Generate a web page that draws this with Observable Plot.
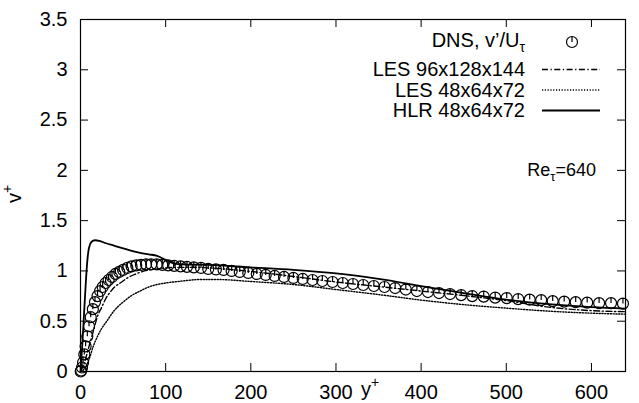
<!DOCTYPE html>
<html><head><meta charset="utf-8">
<script src="https://cdn.jsdelivr.net/npm/d3@7"></script>
<script src="https://cdn.jsdelivr.net/npm/@observablehq/plot@0.6"></script>
<style>body{margin:0;background:#fff;} #chart{width:639px;height:403px;position:relative;}</style>
</head><body><div id="chart"></div>
<script>
// ---- data ----
const xTicks = [0, 100, 200, 300, 400, 500, 600];
const yTicks = [0, 0.5, 1, 1.5, 2, 2.5, 3, 3.5];

const dnsYplus = [0.2, 0.8, 1.8, 3, 4.5, 6, 8, 10, 12, 14.5, 17, 20, 23, 26, 29.5, 33, 37, 41, 45.5, 50, 55, 60, 65.5, 71, 77, 83, 89.5, 96, 103, 110, 117.5, 125, 133, 141.5, 150, 159, 168, 177.5, 187, 197, 207, 217.5, 228, 239, 250, 261, 272.5, 284, 296, 308, 320, 332, 344.5, 357, 369.5, 382, 395, 408, 421, 434, 447, 460, 473.5, 487, 500.5, 514, 527.5, 541, 554.5, 568, 581.5, 595, 609, 623, 637];
const dnsV = [0.0, 0.01, 0.04, 0.09, 0.17, 0.25, 0.35, 0.45, 0.54, 0.62, 0.69, 0.75, 0.80, 0.84, 0.88, 0.91, 0.94, 0.97, 0.99, 1.01, 1.03, 1.045, 1.055, 1.06, 1.065, 1.065, 1.065, 1.06, 1.055, 1.05, 1.045, 1.04, 1.035, 1.03, 1.02, 1.015, 1.01, 1.0, 0.99, 0.98, 0.97, 0.96, 0.95, 0.94, 0.93, 0.92, 0.91, 0.90, 0.89, 0.88, 0.87, 0.86, 0.85, 0.84, 0.83, 0.815, 0.80, 0.79, 0.78, 0.77, 0.76, 0.75, 0.745, 0.735, 0.73, 0.72, 0.715, 0.71, 0.70, 0.695, 0.69, 0.685, 0.68, 0.68, 0.675];

const les96Yplus = [0, 5, 10, 15, 20, 25, 30, 35, 40, 45, 50, 55, 65, 75, 90, 110, 130, 150, 200, 250, 300, 350, 400, 450, 500, 550, 600, 640];
const les96V = [0, 0.1, 0.25, 0.4, 0.55, 0.64, 0.73, 0.79, 0.84, 0.87, 0.9, 0.93, 0.97, 1.0, 1.02, 1.035, 1.035, 1.03, 0.995, 0.945, 0.89, 0.845, 0.8, 0.755, 0.705, 0.64, 0.605, 0.595];

const les48Yplus = [0, 5, 10, 15, 20, 25, 30, 40, 50, 60, 70, 80, 90, 100, 120, 140, 160, 200, 250, 300, 350, 400, 450, 500, 550, 600, 640];
const les48V = [0, 0.03, 0.12, 0.25, 0.35, 0.43, 0.49, 0.61, 0.69, 0.755, 0.8, 0.84, 0.865, 0.88, 0.9, 0.915, 0.915, 0.895, 0.865, 0.815, 0.765, 0.71, 0.665, 0.63, 0.6, 0.58, 0.57];

const hlrYplus = [0, 2, 4, 6, 8, 10, 13, 17, 22, 30, 40, 50, 60, 70, 80, 90, 100, 110, 120, 150, 200, 250, 300, 350, 400, 450, 500, 550, 600, 640];
const hlrV = [0, 0.25, 0.55, 0.85, 1.1, 1.23, 1.29, 1.305, 1.3, 1.275, 1.25, 1.225, 1.2, 1.18, 1.165, 1.15, 1.11, 1.075, 1.065, 1.06, 1.035, 1.01, 0.975, 0.92, 0.85, 0.78, 0.715, 0.67, 0.64, 0.625];

const legendLabels = ["DNS, v\u2019/U", "LES 96x128x144", "LES 48x64x72", "HLR 48x64x72"];
const reLabel = ["Re", "\u03c4", "=640"];

// ---- build tables ----
const zip = (xs, ys) => xs.map((x, i) => ({x, y: ys[i]}));
const dns = zip(dnsYplus, dnsV);
const les96 = zip(les96Yplus, les96V);
const les48 = zip(les48Yplus, les48V);
const hlr = zip(hlrYplus, hlrV);

const dash96 = "6,2.5,1.3,2.5";
const dot48 = "1.2,1.6";

// circle with a stroke from centre to top
const circleTick = {
  draw(ctx, size) {
    const r = Math.sqrt(size / Math.PI);
    ctx.moveTo(r, 0);
    ctx.arc(0, 0, r, 0, 2 * Math.PI);
    ctx.moveTo(0, 0);
    ctx.lineTo(0, -r);
  }
};

const W = 639, H = 403, mL = 80, mR = 14, mT = 19, mB = 32;
const fw = W - mL - mR, fh = H - mT - mB;

const plot = Plot.plot({
  width: W, height: H,
  marginLeft: mL, marginRight: mR, marginTop: mT, marginBottom: mB,
  style: {fontFamily: "'Liberation Sans', Arial, sans-serif", fontSize: "20px", background: "white", color: "black"},
  x: {domain: [0, 640]},
  y: {domain: [0, 3.5]},
  marks: [
    Plot.axisX({ticks: xTicks, tickSize: 0, tickPadding: 13, tickFormat: d => String(d), fontSize: 20, label: null}),
    Plot.axisY({ticks: yTicks, tickSize: 0, tickPadding: 13, tickFormat: d => String(d), fontSize: 20, label: null}),
    Plot.tickX(xTicks, {x: d => d, insetTop: fh - 8, stroke: "black"}),
    Plot.tickX(xTicks, {x: d => d, insetBottom: fh - 8, stroke: "black"}),
    Plot.tickY(yTicks, {y: d => d, insetRight: fw - 8, stroke: "black"}),
    Plot.tickY(yTicks, {y: d => d, insetLeft: fw - 8, stroke: "black"}),
    Plot.line(les48, {x: "x", y: "y", curve: "monotone-x", stroke: "black", strokeWidth: 1.4, strokeDasharray: dot48}),
    Plot.line(les96, {x: "x", y: "y", curve: "monotone-x", stroke: "black", strokeWidth: 1.4, strokeDasharray: dash96}),
    Plot.line(hlr, {x: "x", y: "y", curve: "monotone-x", stroke: "black", strokeWidth: 1.8}),
    Plot.dot(dns, {x: "x", y: "y", r: 5.5, symbol: circleTick, stroke: "black", strokeWidth: 1.2, fill: "none"}),
    Plot.frame({stroke: "black", strokeWidth: 1.2})
  ]
});
document.getElementById("chart").appendChild(plot);

// ---- legend and labels ----
const svg = d3.select(plot);
const g = svg.append("g").attr("font-family", "'Liberation Sans', Arial, sans-serif").attr("fill", "black");
const textRight = 525;
const baselines = [47, 76, 97, 117];
const sampleY = [42, 69.5, 90, 110.5];
const sx1 = 542, sx2 = 600;

// row 1: DNS
const t0 = g.append("text").attr("x", textRight).attr("y", baselines[0]).attr("text-anchor", "end").attr("font-size", 20);
t0.append("tspan").text(legendLabels[0]);
t0.append("tspan").attr("font-size", 14).attr("dy", 5).text("\u03c4");
g.append("path").attr("transform", `translate(572,${sampleY[0]})`)
  .attr("d", d3.symbol(circleTick, Math.PI * 5.5 * 5.5)()).attr("fill", "none").attr("stroke", "black").attr("stroke-width", 1.2);

const styles = [null, {dash: dash96, w: 1.4}, {dash: dot48, w: 1.4}, {dash: null, w: 1.8}];
for (let i = 1; i < 4; i++) {
  g.append("text").attr("x", textRight).attr("y", baselines[i]).attr("text-anchor", "end").attr("font-size", 20).text(legendLabels[i]);
  const l = g.append("line").attr("x1", sx1).attr("x2", sx2).attr("y1", sampleY[i]).attr("y2", sampleY[i])
    .attr("stroke", "black").attr("stroke-width", styles[i].w);
  if (styles[i].dash) l.attr("stroke-dasharray", styles[i].dash);
}

// Re_tau label
const re = g.append("text").attr("x", 596).attr("y", 176).attr("text-anchor", "end").attr("font-size", 18);
re.append("tspan").text(reLabel[0]);
re.append("tspan").attr("font-size", 13).attr("dy", 5).text(reLabel[1]);
re.append("tspan").attr("dy", -5).text(reLabel[2]);

// x label y+
const xl = g.append("text").attr("x", 370).attr("y", 396).attr("font-size", 20);
xl.append("tspan").text("y");
xl.append("tspan").attr("font-size", 14).attr("dy", -9).text("+");

// y label v+
const yl = g.append("text").attr("transform", "translate(21,194) rotate(-90)").attr("font-size", 20);
yl.append("tspan").text("v");
yl.append("tspan").attr("font-size", 14).attr("dy", -9).text("+");
</script></body></html>
